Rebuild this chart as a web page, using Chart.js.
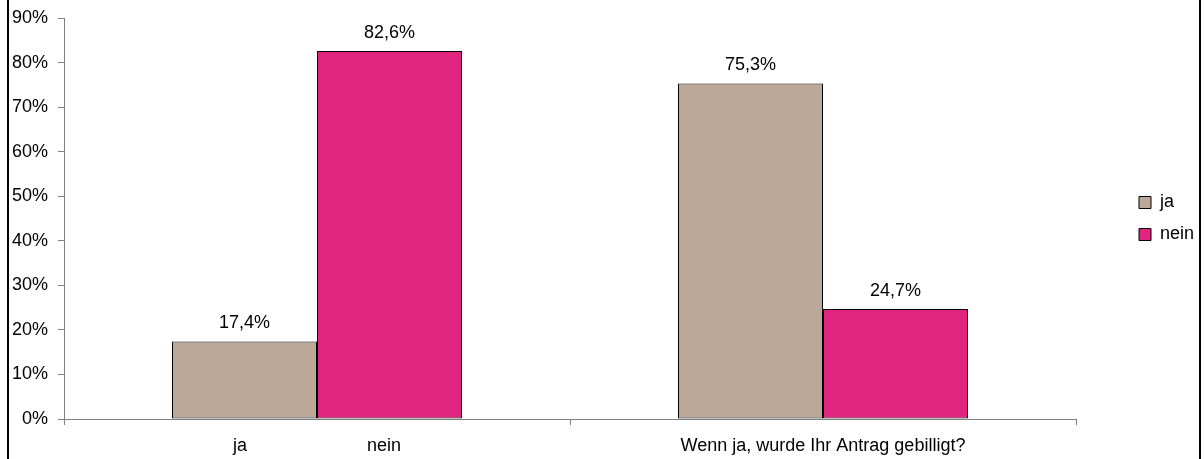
<!DOCTYPE html>
<html>
<head>
<meta charset="utf-8">
<script src="https://cdn.jsdelivr.net/npm/chart.js@4/dist/chart.umd.min.js"></script>
<style>
  html, body { margin: 0; padding: 0; background: #fff; overflow: hidden; }
  #wrap { position: relative; width: 1204px; height: 459px; }
  #barChart { display: block; }
  #frame { position: absolute; left: 7px; top: -10px; width: 1190px; height: 476px;
           border: 2px solid #000; pointer-events: none; }
</style>
</head>
<body>
<div id="wrap">
  <canvas id="barChart" width="1204" height="459"></canvas>
  <div id="frame"></div>
</div>
<script>
// categories (first one carries both sub-labels, like the original sheet)
var categories = ["ja                        nein", "Wenn ja, wurde Ihr Antrag gebilligt?"];
var seriesNames = ["ja", "nein"];
var jaValues = [17.4, 75.3];
var neinValues = [82.6, 24.7];
var yTicks = [0, 10, 20, 30, 40, 50, 60, 70, 80, 90];

function fmt(v) {
  return v.toFixed(1).replace('.', ',') + '%';
}

Chart.defaults.font.family = '"Liberation Sans", Arial, sans-serif';
Chart.defaults.font.size = 18;
Chart.defaults.color = '#000';

var valueLabels = {
  id: 'valueLabels',
  afterDatasetsDraw: function(chart) {
    var ctx = chart.ctx;
    ctx.save();
    ctx.font = '18px "Liberation Sans", Arial, sans-serif';
    ctx.fillStyle = '#000';
    ctx.textAlign = 'center';
    ctx.textBaseline = 'alphabetic';
    chart.data.datasets.forEach(function(ds, i) {
      chart.getDatasetMeta(i).data.forEach(function(bar, j) {
        ctx.fillText(fmt(ds.data[j]), bar.x, bar.y - 13);
      });
    });
    ctx.restore();
  }
};

var ctxB = document.getElementById("barChart").getContext('2d');
var myBarChart = new Chart(ctxB, {
  type: 'bar',
  data: {
    labels: categories,
    datasets: [
      {
        label: seriesNames[0],
        data: jaValues,
        backgroundColor: '#BBA898',
        borderColor: '#000',
        borderWidth: 1,
        borderSkipped: false
      },
      {
        label: seriesNames[1],
        data: neinValues,
        backgroundColor: '#E0247F',
        borderColor: '#000',
        borderWidth: 1,
        borderSkipped: false
      }
    ]
  },
  options: {
    responsive: false,
    animation: false,
    layout: { padding: { top: 18, left: 12, right: 3, bottom: 0 } },
    datasets: {
      bar: { categoryPercentage: 290 / 506, barPercentage: 1.0 }
    },
    scales: {
      x: {
        grid: { display: true, offset: true, drawOnChartArea: false, drawTicks: true, tickLength: 6, color: '#808080' },
        border: { display: true, color: '#808080', width: 1 },
        ticks: { maxRotation: 0, autoSkip: false, padding: 10 },
        afterFit: function(scale) { scale.height = 40; }
      },
      y: {
        min: 0,
        max: 90,
        afterBuildTicks: function(scale) {
          scale.ticks = yTicks.map(function(v) { return { value: v }; });
        },
        afterFit: function(scale) {
          scale.width = 52;
          scale.paddingTop = 0;
          scale.paddingBottom = 0;
        },
        grid: { display: true, drawOnChartArea: false, drawTicks: true, tickLength: 6, color: '#808080' },
        border: { display: true, color: '#808080', width: 1 },
        ticks: {
          padding: 10,
          callback: function(v) { return v + '%'; }
        }
      },
      gap: {
        type: 'linear',
        position: 'right',
        grid: { display: false },
        border: { display: false },
        ticks: { display: false },
        afterFit: function(scale) { scale.width = 49; }
      }
    },
    plugins: {
      tooltip: { enabled: false },
      legend: {
        position: 'right',
        fullSize: false,
        maxWidth: 76,
        labels: {
          boxWidth: 12,
          boxHeight: 12,
          padding: 14,
          color: '#000'
        }
      }
    }
  },
  plugins: [valueLabels]
});
</script>
</body>
</html>
